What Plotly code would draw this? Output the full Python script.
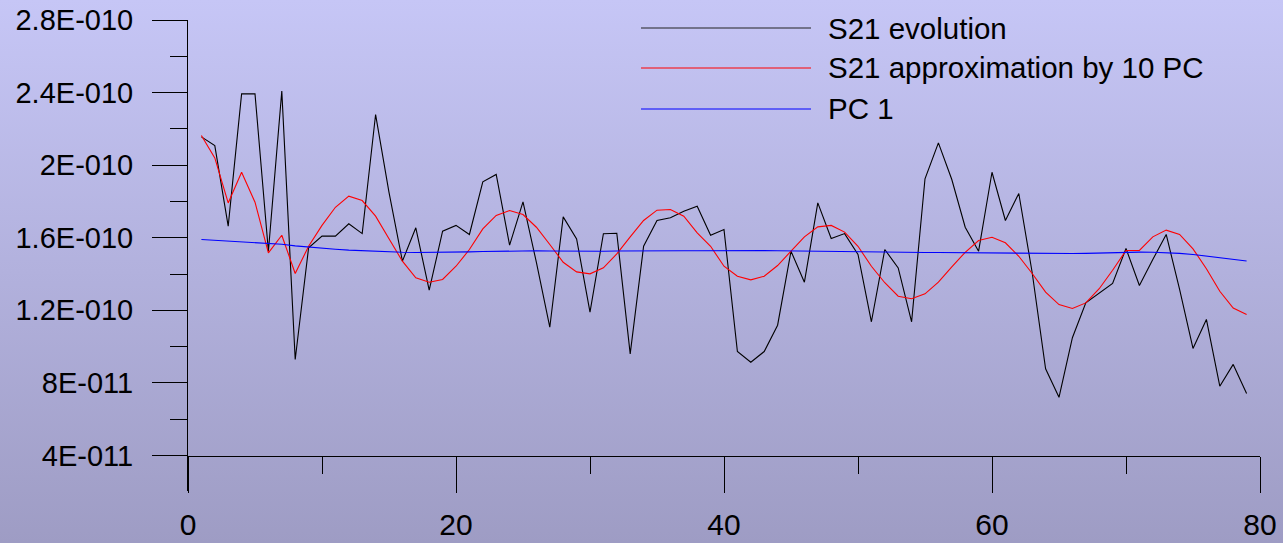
import base64
import plotly.graph_objects as go

# Sample index (1..79)
x_index = list(range(1, 80))

# S21 evolution (units of 1E-11)
s21_evolution = [
    21.56, 21.08, 16.64, 23.93, 23.93, 15.26, 24.08, 9.29, 15.45, 16.09,
    16.09, 16.77, 16.23, 22.79, 18.50, 14.71, 16.55, 13.11, 16.36, 16.68,
    16.18, 19.08, 19.49, 15.59, 17.98, 14.64, 11.07, 17.15, 15.94, 11.90,
    16.22, 16.25, 9.60, 15.53, 16.95, 17.10, 17.46, 17.74, 16.14, 16.45,
    9.73, 9.14, 9.73, 11.18, 15.26, 13.55, 17.92, 15.96, 16.23, 15.08,
    11.37, 15.35, 14.34, 11.37, 19.25, 21.23, 19.21, 16.58, 15.26, 19.61,
    16.95, 18.44, 14.07, 8.78, 7.21, 10.49, 12.41, 12.93, 13.48, 15.41,
    13.37, 14.80, 16.18, 13.15, 9.90, 11.50, 7.82, 9.02, 7.42,
]

# S21 approximation by 10 principal components (units of 1E-11)
s21_approx_10pc = [
    21.63, 20.40, 17.92, 19.61, 17.96, 15.17, 16.14, 14.03, 15.53, 16.68,
    17.68, 18.29, 18.05, 17.19, 15.94, 14.71, 13.79, 13.55, 13.70, 14.43,
    15.35, 16.49, 17.23, 17.50, 17.28, 16.58, 15.63, 14.65, 14.12, 14.01,
    14.34, 15.11, 16.05, 16.95, 17.52, 17.56, 17.19, 16.27, 15.53, 14.43,
    13.88, 13.68, 13.88, 14.47, 15.26, 16.05, 16.60, 16.68, 16.31, 15.53,
    14.43, 13.52, 12.78, 12.64, 12.91, 13.55, 14.40, 15.20, 15.85, 16.03,
    15.72, 14.98, 14.03, 13.00, 12.32, 12.10, 12.41, 13.19, 14.21, 15.30,
    15.30, 16.05, 16.42, 16.18, 15.39, 14.29, 13.05, 12.13, 11.77,
]

# First principal component (units of 1E-11)
pc1 = [
    15.90, 15.86, 15.83, 15.80, 15.76, 15.70, 15.64, 15.55, 15.48, 15.42,
    15.37, 15.32, 15.28, 15.24, 15.21, 15.20, 15.19, 15.19, 15.20, 15.21,
    15.22, 15.24, 15.26, 15.28, 15.28, 15.28, 15.27, 15.26, 15.25, 15.25,
    15.26, 15.27, 15.28, 15.28, 15.28, 15.28, 15.28, 15.28, 15.29, 15.30,
    15.30, 15.30, 15.29, 15.28, 15.27, 15.25, 15.24, 15.22, 15.21, 15.20,
    15.20, 15.19, 15.19, 15.19, 15.19, 15.19, 15.18, 15.17, 15.16, 15.15,
    15.14, 15.13, 15.12, 15.12, 15.12, 15.13, 15.14, 15.16, 15.18, 15.20,
    15.21, 15.20, 15.18, 15.14, 15.08, 15.00, 14.90, 14.80, 14.72,
]
UNIT = 1e-11

series_names = ["S21 evolution", "S21 approximation by 10 PC", "PC 1"]
series_colors = ["#000000", "#ff0000", "#0000ff"]

y_tickvals = [4e-11, 8e-11, 1.2e-10, 1.6e-10, 2e-10, 2.4e-10, 2.8e-10]
y_ticktext = ["4E-011", "8E-011", "1.2E-010", "1.6E-010", "2E-010", "2.4E-010", "2.8E-010"]
y_minor = [6e-11, 1e-10, 1.4e-10, 1.8e-10, 2.2e-10, 2.6e-10]
x_tickvals = [0, 20, 40, 60, 80]
x_minor = [10, 30, 50, 70]

# Figure geometry
W, H = 1283, 543
ML, MR, MT, MB = 188, 23, 20, 52
PW, PH = W - ML - MR, H - MT - MB
Y_TOP = 2.8e-10
PX_PER_UNIT = 18.146          # pixels per 1E-11 on the value axis
Y_BOT = Y_TOP - PH / PX_PER_UNIT * UNIT
X_CROSS = 4e-11               # value where the horizontal axis sits

FONT = "Liberation Sans, Arial, sans-serif"

fig = go.Figure()
for name, vals, col in zip(series_names, [s21_evolution, s21_approx_10pc, pc1], series_colors):
    fig.add_trace(go.Scatter(
        x=x_index, y=[v * UNIT for v in vals], mode="lines", name=name,
        line=dict(color=col, width=1.1), showlegend=False,
    ))

# Vertical lavender gradient backdrop spanning the whole canvas
svg = (
    f'<svg xmlns="http://www.w3.org/2000/svg" width="{W}" height="{H}">'
    '<defs><linearGradient id="g" x1="0" y1="0" x2="0" y2="1">'
    '<stop offset="0" stop-color="#c6c6f6"/>'
    '<stop offset="1" stop-color="#9e9cc4"/>'
    '</linearGradient></defs>'
    f'<rect width="{W}" height="{H}" fill="url(#g)"/></svg>'
)
src = "data:image/svg+xml;base64," + base64.b64encode(svg.encode()).decode()
fig.add_layout_image(dict(
    source=src, xref="paper", yref="paper",
    x=-ML / PW, y=1 + MT / PH, sizex=W / PW, sizey=H / PH,
    xanchor="left", yanchor="top", sizing="stretch", layer="below",
))

# Legend drawn as sample lines with labels
def px_to_paper(px, py):
    return (px - ML) / PW, 1 - (py - MT) / PH

legend_rows_y = [28, 68, 109]
for name, col, ry in zip(series_names, series_colors, legend_rows_y):
    x0, y0 = px_to_paper(641, ry)
    x1, _ = px_to_paper(811, ry)
    fig.add_shape(type="line", xref="paper", yref="paper", x0=x0, x1=x1, y0=y0, y1=y0,
                  line=dict(color=col if col != "#000000" else "#222222", width=1.1))
    tx, _ = px_to_paper(826, ry)
    fig.add_annotation(text=name, xref="paper", yref="paper", x=tx, y=y0,
                       xanchor="left", yanchor="middle", showarrow=False,
                       font=dict(family=FONT, size=29.5, color="#000000"))

axis_pos = (X_CROSS - Y_BOT) / (Y_TOP - Y_BOT)

fig.update_layout(
    width=W, height=H,
    margin=dict(l=ML, r=MR, t=MT, b=MB, pad=0, autoexpand=False),
    paper_bgcolor="#b0aed8", plot_bgcolor="rgba(0,0,0,0)",
    font=dict(family=FONT, color="#000000"),
    xaxis=dict(
        range=[0, 80], anchor="free", position=axis_pos, automargin=False,
        showline=True, linecolor="#000000", linewidth=1,
        showgrid=False, zeroline=False,
        tickvals=x_tickvals, ticks="outside", ticklen=36, tickwidth=1, tickcolor="#000000",
        minor=dict(tickvals=x_minor, ticks="outside", ticklen=17, tickwidth=1,
                   tickcolor="#000000", showgrid=False),
        tickfont=dict(family=FONT, size=30), ticklabelstandoff=6,
    ),
    yaxis=dict(
        range=[Y_BOT, Y_TOP], automargin=False,
        showline=True, linecolor="#000000", linewidth=1,
        showgrid=False, zeroline=False,
        tickvals=y_tickvals, ticktext=y_ticktext,
        ticks="outside", ticklen=35, tickwidth=1, tickcolor="#000000",
        minor=dict(tickvals=y_minor, ticks="outside", ticklen=17, tickwidth=1,
                   tickcolor="#000000", showgrid=False),
        tickfont=dict(family=FONT, size=29), ticklabelstandoff=13,
    ),
)

fig.write_html("out.html")
